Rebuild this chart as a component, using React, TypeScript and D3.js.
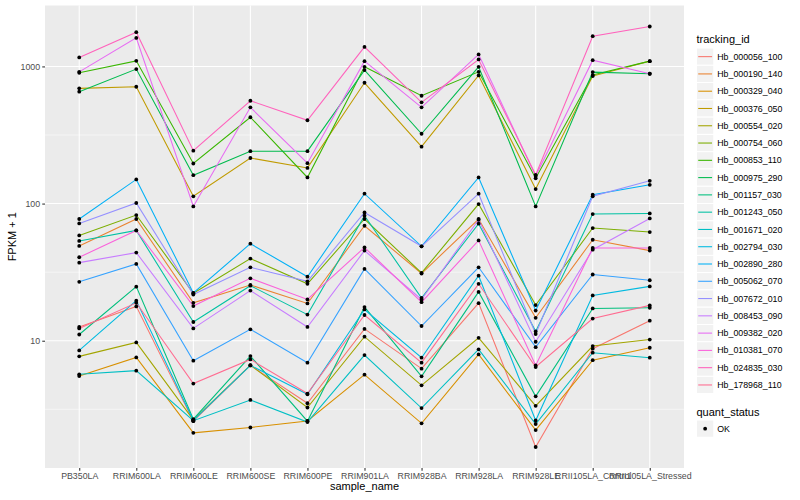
import React, { useEffect, useRef } from 'react'
import * as d3 from 'd3'

const sampleNames = [
    'PB350LA',
    'RRIM600LA',
    'RRIM600LE',
    'RRIM600SE',
    'RRIM600PE',
    'RRIM901LA',
    'RRIM928BA',
    'RRIM928LA',
    'RRIM928LE',
    'RRII105LA_Control',
    'RRII105LA_Stressed',
]

const trackingIds = [
    'Hb_000056_100',
    'Hb_000190_140',
    'Hb_000329_040',
    'Hb_000376_050',
    'Hb_000554_020',
    'Hb_000754_060',
    'Hb_000853_110',
    'Hb_000975_290',
    'Hb_001157_030',
    'Hb_001243_050',
    'Hb_001671_020',
    'Hb_002794_030',
    'Hb_002890_280',
    'Hb_005062_070',
    'Hb_007672_010',
    'Hb_008453_090',
    'Hb_009382_020',
    'Hb_010381_070',
    'Hb_024835_030',
    'Hb_178968_110',
]

// FPKM + 1, one value per sample (sampleNames order)
const hb000056_100 = [12.6, 17.8, 2.59, 6.61, 3.5, 12.2, 6.26, 18.8, 1.68, 8.75, 14.0]
const hb000190_140 = [49.1, 77.2, 18.9, 25.5, 18.7, 68.9, 30.9, 77.2, 14.7, 54.5, 45.4]
const hb000329_040 = [5.53, 7.56, 2.13, 2.33, 2.6, 5.66, 2.5, 7.95, 2.23, 7.22, 8.89]
const hb000376_050 = [692, 711, 113, 215, 182, 760, 260, 860, 127.5, 850, 1093]
const hb000554_020 = [7.69, 9.72, 2.65, 6.64, 3.26, 10.7, 4.73, 10.5, 3.35, 9.14, 10.2]
const hb000754_060 = [58.6, 82.5, 22.2, 39.7, 26.0, 77.2, 31.2, 99.2, 18.2, 66.3, 62.0]
const hb000853_110 = [898, 1098, 196, 426, 155, 993, 611, 913, 153, 865, 1093]
const hb000975_290 = [654, 956, 161, 241, 241, 940, 323, 993, 95.3, 909, 884]
const hb001157_030 = [11.1, 24.8, 2.68, 7.73, 2.59, 17.6, 5.5, 22.7, 3.93, 17.2, 17.4]
const hb001243_050 = [53.4, 63.7, 13.7, 25.2, 15.5, 81.5, 20.5, 71.3, 11.7, 83.9, 84.7]
const hb001671_020 = [5.69, 6.05, 2.61, 3.7, 2.55, 7.86, 3.23, 8.65, 2.47, 8.18, 7.52]
const hb002794_030 = [8.5, 19.6, 2.63, 6.61, 4.07, 16.9, 7.52, 29.8, 2.62, 21.4, 24.9]
const hb002890_280 = [77.2, 150, 22.3, 51.0, 29.3, 118, 48.8, 155, 16.6, 116, 137]
const hb005062_070 = [26.9, 36.3, 7.15, 12.1, 6.92, 33.4, 12.8, 34.3, 8.98, 30.4, 27.6]
const hb007672_010 = [71.7, 101, 21.7, 34.3, 27.1, 86.2, 48.8, 118, 11.2, 113, 146.5]
const hb008453_090 = [37.1, 43.9, 12.3, 23.2, 12.6, 45.4, 20.0, 76.2, 9.83, 46.1, 77.9]
const hb009382_020 = [913, 1614, 95.3, 503, 197, 1093, 503, 1223, 159, 1111, 884]
const hb010381_070 = [40.6, 63.7, 17.9, 28.5, 20.0, 47.9, 19.1, 53.9, 6.61, 47.5, 47.5]
const hb024835_030 = [1163, 1776, 243, 562, 405, 1388, 547, 1124, 162, 1661, 1954]
const hb178968_110 = [12.3, 18.9, 4.87, 7.31, 4.12, 15.4, 6.92, 26.0, 6.43, 14.5, 18.1]

const seriesValues = [
    hb000056_100,
    hb000190_140,
    hb000329_040,
    hb000376_050,
    hb000554_020,
    hb000754_060,
    hb000853_110,
    hb000975_290,
    hb001157_030,
    hb001243_050,
    hb001671_020,
    hb002794_030,
    hb002890_280,
    hb005062_070,
    hb007672_010,
    hb008453_090,
    hb009382_020,
    hb010381_070,
    hb024835_030,
    hb178968_110,
]

const yTicks = [10, 100, 1000]
const quantStatus = ['OK']

// ggplot2 hue_pal()(20)
const palette = [
    '#F8766D', '#EA8331', '#D89000', '#C09B00', '#A3A500',
    '#7CAE00', '#39B600', '#00BB4E', '#00BF7D', '#00C1A3',
    '#00BFC4', '#00BAE0', '#00B0F6', '#35A2FF', '#9590FF',
    '#C77CFF', '#E76BF3', '#FA62DB', '#FF62BC', '#FF6C91',
]

const width = 800
const height = 500
const margin = { top: 5.5, right: 116, bottom: 32, left: 45 }
const font = "'Liberation Sans', Arial, Helvetica, sans-serif"

export const FpkmChart: React.FC = () => {
    const svgRef = useRef<SVGSVGElement>(null)

    useEffect(() => {
        if (!svgRef.current) return
        const svg = d3.select(svgRef.current)
        svg.selectAll('*').remove()

        const x0 = margin.left
        const x1 = width - margin.right
        const y0 = margin.top
        const y1 = height - margin.bottom

        const xScale = d3.scalePoint<string>().domain(sampleNames).range([x0, x1]).padding(0.6)

        // log10 domain with ggplot's 5% expansion
        const logs = seriesValues.flat().map((v) => Math.log10(v))
        const lo = d3.min(logs)!
        const hi = d3.max(logs)!
        const pad = (hi - lo) * 0.05
        const yScale = d3
            .scaleLog()
            .domain([10 ** (lo - pad), 10 ** (hi + pad)])
            .range([y1, y0])
        const [dMin, dMax] = yScale.domain()

        svg.append('rect').attr('width', width).attr('height', height).attr('fill', '#fff')

        // panel
        svg.append('rect')
            .attr('x', x0)
            .attr('y', y0)
            .attr('width', x1 - x0)
            .attr('height', y1 - y0)
            .attr('fill', '#EBEBEB')

        const minorTicks = [yTicks[0] / Math.sqrt(10), ...yTicks.map((t) => t * Math.sqrt(10))].filter(
            (t) => t > dMin && t < dMax,
        )
        const grid = svg.append('g')
        grid.selectAll('.minor')
            .data(minorTicks)
            .enter()
            .append('line')
            .attr('x1', x0)
            .attr('x2', x1)
            .attr('y1', (d) => yScale(d))
            .attr('y2', (d) => yScale(d))
            .attr('stroke', '#fff')
            .attr('stroke-width', 0.53)
        grid.selectAll('.major')
            .data(yTicks)
            .enter()
            .append('line')
            .attr('x1', x0)
            .attr('x2', x1)
            .attr('y1', (d) => yScale(d))
            .attr('y2', (d) => yScale(d))
            .attr('stroke', '#fff')
            .attr('stroke-width', 1.07)
        grid.selectAll('.vmajor')
            .data(sampleNames)
            .enter()
            .append('line')
            .attr('x1', (d) => xScale(d)!)
            .attr('x2', (d) => xScale(d)!)
            .attr('y1', y0)
            .attr('y2', y1)
            .attr('stroke', '#fff')
            .attr('stroke-width', 1.07)

        const line = d3
            .line<number>()
            .x((_, i) => xScale(sampleNames[i])!)
            .y((d) => yScale(d))

        svg.append('g')
            .selectAll('path')
            .data(seriesValues)
            .enter()
            .append('path')
            .attr('d', (d) => line(d))
            .attr('fill', 'none')
            .attr('stroke', (_, i) => palette[i])
            .attr('stroke-width', 1.07)

        const points = seriesValues.flatMap((vals) => vals.map((v, i) => ({ s: sampleNames[i], v })))
        svg.append('g')
            .selectAll('circle')
            .data(points)
            .enter()
            .append('circle')
            .attr('cx', (d) => xScale(d.s)!)
            .attr('cy', (d) => yScale(d.v))
            .attr('r', 1.9)
            .attr('fill', '#000')

        // axes
        const yAxis = d3
            .axisLeft(yScale)
            .tickValues(yTicks)
            .tickFormat(d3.format('d'))
            .tickSize(2.75)
            .tickPadding(2.2)
        const gy = svg.append('g').attr('transform', `translate(${x0},0)`).call(yAxis)
        const xAxis = d3.axisBottom(xScale).tickSize(2.75).tickPadding(2.2)
        const gx = svg.append('g').attr('transform', `translate(0,${y1})`).call(xAxis)
        for (const g of [gx, gy]) {
            g.select('.domain').remove()
            g.selectAll('line').attr('stroke', '#333333').attr('stroke-width', 1.07)
            g.selectAll('text').attr('fill', '#4D4D4D').style('font-size', '8.8px').style('font-family', font)
        }

        svg.append('text')
            .attr('x', (x0 + x1) / 2)
            .attr('y', 490)
            .attr('text-anchor', 'middle')
            .style('font-family', font)
            .style('font-size', '11px')
            .text('sample_name')

        svg.append('text')
            .attr('transform', `translate(16,${(y0 + y1) / 2}) rotate(-90)`)
            .attr('text-anchor', 'middle')
            .style('font-family', font)
            .style('font-size', '11px')
            .text('FPKM + 1')

        // legends
        const keySize = 17.28
        const keyX = 696.5
        const legend = svg.append('g')
        legend.append('text')
            .attr('x', keyX)
            .attr('y', 43)
            .style('font-family', font)
            .style('font-size', '11px')
            .text('tracking_id')

        const keyTop = 48
        const keys = legend
            .selectAll('.key')
            .data(trackingIds)
            .enter()
            .append('g')
            .attr('transform', (_, i) => `translate(${keyX},${keyTop + i * keySize})`)
        keys.append('rect')
            .attr('width', keySize)
            .attr('height', keySize)
            .attr('fill', '#F2F2F2')
            .attr('stroke', '#fff')
            .attr('stroke-width', 1)
        keys.append('line')
            .attr('x1', keySize * 0.1)
            .attr('x2', keySize * 0.9)
            .attr('y1', keySize / 2)
            .attr('y2', keySize / 2)
            .attr('stroke', (_, i) => palette[i])
            .attr('stroke-width', 1.07)
        keys.append('text')
            .attr('x', keySize + 3.5)
            .attr('y', keySize / 2)
            .attr('dy', '0.35em')
            .style('font-family', font)
            .style('font-size', '8.8px')
            .text((d) => d)

        const qTitleY = 416
        legend.append('text')
            .attr('x', keyX)
            .attr('y', qTitleY)
            .style('font-family', font)
            .style('font-size', '11px')
            .text('quant_status')

        const qKeys = legend
            .selectAll('.qkey')
            .data(quantStatus)
            .enter()
            .append('g')
            .attr('transform', (_, i) => `translate(${keyX},${qTitleY + 4 + i * keySize})`)
        qKeys.append('rect')
            .attr('width', keySize)
            .attr('height', keySize)
            .attr('fill', '#F2F2F2')
            .attr('stroke', '#fff')
        qKeys.append('circle')
            .attr('cx', keySize / 2)
            .attr('cy', keySize / 2)
            .attr('r', 1.9)
            .attr('fill', '#000')
        qKeys.append('text')
            .attr('x', keySize + 3.5)
            .attr('y', keySize / 2)
            .attr('dy', '0.35em')
            .style('font-family', font)
            .style('font-size', '8.8px')
            .text((d) => d)
    }, [])

    return <svg ref={svgRef} width={width} height={height} style={{ display: 'block' }} />
}

export default function App() {
    useEffect(() => {
        document.body.style.margin = '0'
    }, [])
    return <FpkmChart />
}
